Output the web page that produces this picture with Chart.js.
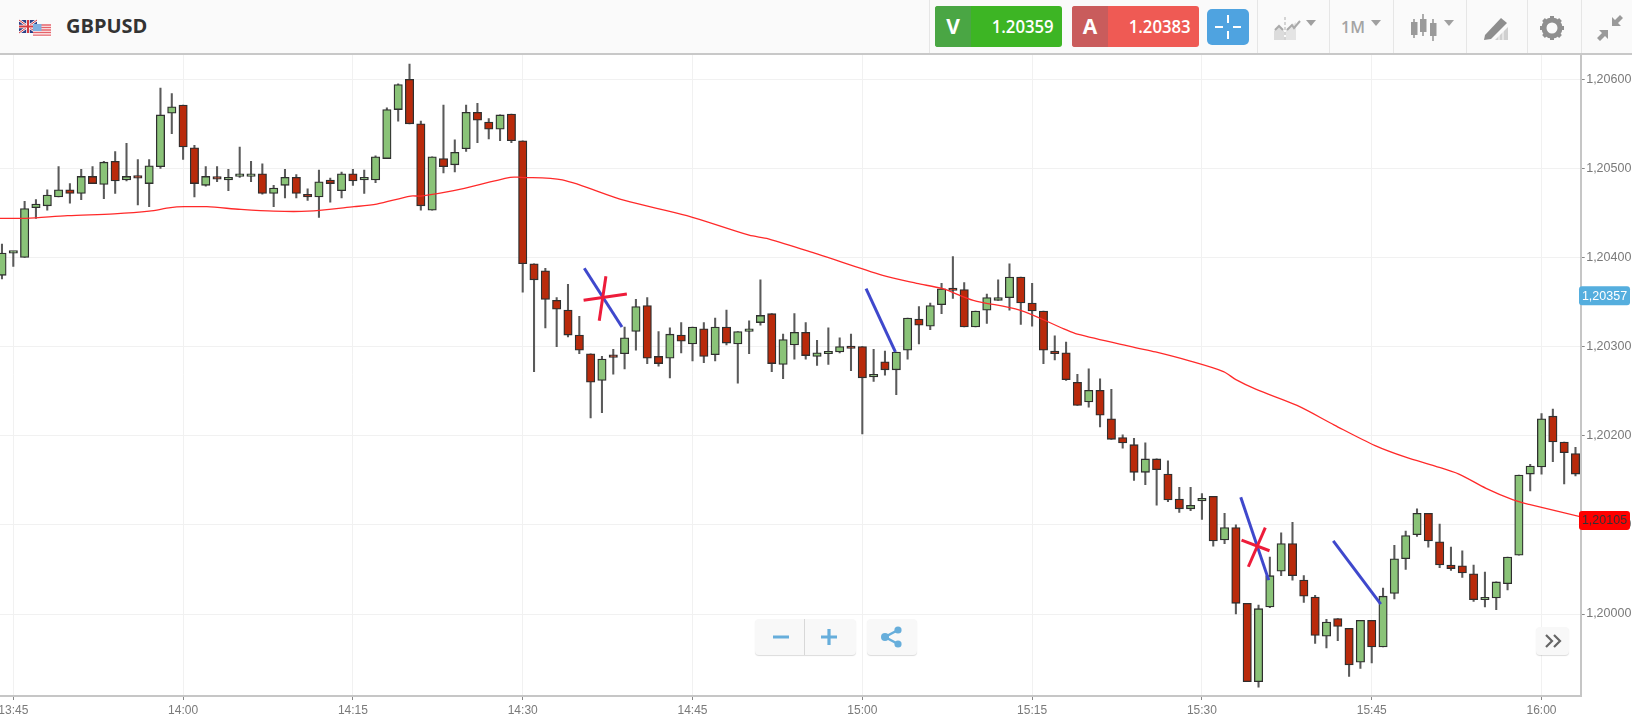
<!DOCTYPE html>
<html>
<head>
<meta charset="utf-8">
<title>GBPUSD</title>
<script src="https://cdn.jsdelivr.net/npm/chart.js@4/dist/chart.umd.js"></script>
<style>
html,body{margin:0;padding:0;background:#fff;width:1632px;height:728px;overflow:hidden;font-family:"Open Sans",sans-serif}
#wrap{position:relative;width:1632px;height:728px}
#c{position:absolute;left:0;top:0;width:1632px;height:728px}
#head{position:absolute;left:0;top:0;width:1632px;height:53px;background:#fafafa;border-bottom:2px solid #c8c8c8}
.abs{position:absolute}
.sep{position:absolute;top:0;width:1px;height:53px;background:#e6e6e6}
.btn{position:absolute;top:6px;height:41px;width:127px;border-radius:3px;overflow:hidden;color:#fff}
.btn .l{position:absolute;left:0;top:0;bottom:0;width:36px;text-align:center;font-weight:700;font-size:21px;line-height:41px}
.btn .r{position:absolute;right:8px;top:0;font-weight:600;font-size:18px;line-height:41px;transform:scaleX(.93);transform-origin:right center}
.tool{position:absolute;background:#f8f8f8;border-radius:4px;box-shadow:0 1px 1px rgba(0,0,0,.14)}
.tri{position:absolute;width:0;height:0;border-left:5.5px solid transparent;border-right:5.5px solid transparent;border-top:6px solid #a0a0a0}
</style>
</head>
<body>
<div id="wrap">
<canvas id="c" width="1632" height="728"></canvas>
<div id="head">
  <svg class="abs" style="left:18px;top:19px" width="36" height="19" viewBox="0 0 36 19">
    <rect x="1" y="1" width="18" height="13" fill="#2d3f86"/>
    <path d="M1 1L19 14M19 1L1 14" stroke="#fff" stroke-width="2.4"/>
    <path d="M1 1L19 14M19 1L1 14" stroke="#d43a3f" stroke-width="1"/>
    <path d="M10 1V14M1 7.5H19" stroke="#fff" stroke-width="3.6"/>
    <path d="M10 1V14M1 7.5H19" stroke="#d43a3f" stroke-width="2"/>
    <rect x="15" y="5" width="18" height="13" fill="#fff"/>
    <path d="M15 6H33M15 8.5H33M15 11H33M15 13.5H33M15 16.2H33" stroke="#e5626a" stroke-width="1.3"/>
    <rect x="15" y="5" width="8.5" height="7" fill="#7fb0e0"/>
  </svg>
  <div class="abs" style="left:66px;top:12px;font-size:20px;font-weight:700;color:#333;line-height:28px">GBPUSD</div>
  <div class="sep" style="left:929px"></div>
  <div class="btn" style="left:935px;background:#3db524"><div class="l" style="background:#4aa644">V</div><div class="r">1.20359</div></div>
  <div class="btn" style="left:1072px;background:#ef5a54"><div class="l" style="background:#c95c5c">A</div><div class="r">1.20383</div></div>
  <div class="abs" style="left:1207px;top:9px;width:42px;height:36px;background:#4fa3e0;border-radius:5px"></div>
  <svg class="abs" style="left:1207px;top:9px" width="42" height="36"><path d="M21 6V14M21 22V30M8 18H16M26 18H34" stroke="#fff" stroke-width="2"/></svg>
  <div class="sep" style="left:1257px"></div>
  <svg class="abs" style="left:1272px;top:16px" width="32" height="26"><path d="M2 24V15L7 10L12 15V24Z" fill="#dcdcdc"/><path d="M14 24V14L24 6V24Z" fill="#e4e4e4"/><path d="M3 14L7 10L11 14M15 14L20 9L22 12L28 5" fill="none" stroke="#aaa" stroke-width="2"/><path d="M13 1V25" stroke="#c8c8c8" stroke-width="1.5" stroke-dasharray="3 2"/></svg>
  <div class="tri" style="left:1306px;top:20px"></div>
  <div class="sep" style="left:1329px"></div>
  <div class="abs" style="left:1341px;top:14px;font-size:16px;font-weight:600;color:#a4a4a4;line-height:26px">1M</div>
  <div class="tri" style="left:1371px;top:20px"></div>
  <div class="sep" style="left:1393px"></div>
  <svg class="abs" style="left:1409px;top:13px" width="30" height="30" fill="#9a9a9a" stroke="#9a9a9a"><path d="M5 6V25M14 1V23M24 6V28" stroke-width="1.6"/><rect x="2" y="9" width="6.5" height="13" stroke="none"/><rect x="11" y="6" width="6.5" height="13" stroke="none"/><rect x="21" y="10" width="6.5" height="13" stroke="none"/></svg>
  <div class="tri" style="left:1444px;top:20px"></div>
  <div class="sep" style="left:1466px"></div>
  <svg class="abs" style="left:1482px;top:13px" width="30" height="30"><path d="M13 27H26V14Z" fill="#d0d0d0"/><path d="M17 27V21M21 27V17" stroke="#fafafa" stroke-width="1"/><path d="M3 22L19 5L25 10L9 26L2 27Z" fill="#8e8e8e"/></svg>
  <div class="sep" style="left:1527px"></div>
  <svg class="abs" style="left:1539px;top:15px" width="26" height="26" viewBox="0 0 26 26"><circle cx="13" cy="13" r="8" fill="none" stroke="#8f8f8f" stroke-width="5"/><path d="M13 1V25M1 13H25M4.5 4.5L21.5 21.5M21.5 4.5L4.5 21.5" stroke="#8f8f8f" stroke-width="4" stroke-dasharray="4 16 4 0"/></svg>
  <div class="sep" style="left:1581px"></div>
  <svg class="abs" style="left:1596px;top:14px" width="28" height="28"><path d="M16 12V3L19 6L24 1L27 4L22 9L25 12Z" fill="#9a9a9a"/><path d="M12 16V25L9 22L4 27L1 24L6 19L3 16Z" fill="#9a9a9a"/></svg>
</div>
<div class="tool" style="left:755px;top:619px;width:101px;height:36px"></div>
<div class="abs" style="left:804px;top:619px;width:1px;height:36px;background:#d8d8d8"></div>
<svg class="abs" style="left:755px;top:619px" width="101" height="36"><path d="M18 18H34M66 18H82M74 10V26" stroke="#67aedb" stroke-width="3.2"/></svg>
<div class="tool" style="left:867px;top:619px;width:50px;height:36px"></div>
<svg class="abs" style="left:867px;top:619px" width="50" height="36"><path d="M31 11L18 18L31 25" fill="none" stroke="#67aedb" stroke-width="2.5"/><circle cx="31" cy="11" r="3.6" fill="#67aedb"/><circle cx="18" cy="18" r="4" fill="#67aedb"/><circle cx="31" cy="25" r="3.6" fill="#67aedb"/></svg>
<div class="tool" style="left:1536px;top:627px;width:33px;height:28px"></div>
<svg class="abs" style="left:1536px;top:627px" width="33" height="28"><path d="M10 8L16 14L10 20M18 8L24 14L18 20" fill="none" stroke="#666" stroke-width="2.2"/></svg>
</div>
<script>
// Minutes since 13:45 for every one-minute candle, first candle at -1
const minutes = [-1,0,1,2,3,4,5,6,7,8,9,10,11,12,13,14,15,16,17,18,19,20,21,22,23,24,25,26,27,28,29,30,31,32,33,34,35,36,37,38,39,40,41,42,43,44,45,46,47,48,49,50,51,52,53,54,55,56,57,58,59,60,61,62,63,64,65,66,67,68,69,70,71,72,73,74,75,76,77,78,79,80,81,82,83,84,85,86,87,88,89,90,91,92,93,94,95,96,97,98,99,100,101,102,103,104,105,106,107,108,109,110,111,112,113,114,115,116,117,118,119,120,121,122,123,124,125,126,127,128,129,130,131,132,133,134,135,136,137,138];
const opens = [1.20380,1.20405,1.20400,1.20456,1.20458,1.20468,1.20476,1.20472,1.20491,1.20482,1.20508,1.20487,1.20492,1.20483,1.20502,1.20562,1.20571,1.20523,1.20481,1.20490,1.20487,1.20491,1.20491,1.20494,1.20472,1.20481,1.20490,1.20471,1.20468,1.20487,1.20475,1.20494,1.20487,1.20487,1.20511,1.20566,1.20600,1.20550,1.20453,1.20511,1.20504,1.20522,1.20563,1.20552,1.20544,1.20561,1.20531,
1.20393,1.20385,1.20352,1.20341,1.20313,1.20292,1.20262,1.20290,1.20292,1.20317,1.20346,1.20289,1.20287,1.20313,1.20303,1.20320,1.20291,1.20322,1.20303,1.20317,1.20327,1.20337,1.20280,1.20302,1.20316,1.20289,1.20292,1.20294,1.20300,1.20300,1.20266,1.20283,1.20274,1.20296,1.20331,1.20323,1.20347,1.20365,1.20364,1.20322,1.20341,1.20352,1.20355,1.20378,1.20349,1.20340,1.20295,1.20293,1.20260,1.20238,1.20251,1.20219,1.20198,1.20190,1.20159,1.20174,1.20157,1.20129,1.20118,1.20127,1.20132,1.20083,1.20097,1.20012,1.19924,1.20008,1.20048,1.20079,1.20038,1.20019,1.19975,1.19995,1.19984,1.19946,1.19993,1.19963,1.20023,1.20062,1.20089,1.20113,1.20081,1.20055,1.20054,1.20045,1.20016,1.20018,1.20034,1.20066,1.20157,1.20165,1.20222,1.20193,1.20180];
const highs = [1.20415,1.20407,1.20463,1.20465,1.20476,1.20502,1.20483,1.20499,1.20502,1.20508,1.20519,1.20528,1.20510,1.20510,1.20590,1.20584,1.20571,1.20526,1.20502,1.20502,1.20499,1.20524,1.20508,1.20505,1.20481,1.20499,1.20493,1.20477,1.20498,1.20489,1.20496,1.20499,1.20498,1.20514,1.20568,1.20595,1.20617,1.20553,1.20513,1.20571,1.20532,1.20571,1.20573,1.20556,1.20560,1.20561,1.20531,
1.20393,1.20388,1.20355,1.20370,1.20334,1.20292,1.20289,1.20297,1.20322,1.20353,1.20355,1.20317,1.20321,1.20327,1.20322,1.20327,1.20332,1.20341,1.20317,1.20329,1.20375,1.20337,1.20314,1.20337,1.20327,1.20307,1.20321,1.20310,1.20314,1.20300,1.20297,1.20295,1.20294,1.20332,1.20345,1.20349,1.20371,1.20401,1.20372,1.20340,1.20359,1.20375,1.20393,1.20378,1.20371,1.20340,1.20312,1.20305,1.20269,1.20275,1.20264,1.20252,1.20201,1.20197,1.20192,1.20174,1.20172,1.20142,1.20142,1.20135,1.20132,1.20113,1.20100,1.20012,1.20010,1.20064,1.20091,1.20103,1.20043,1.20021,1.19994,1.19995,1.19984,1.19993,1.19993,1.20029,1.20077,1.20093,1.20118,1.20113,1.20101,1.20075,1.20071,1.20055,1.20047,1.20036,1.20064,1.20156,1.20168,1.20225,1.20230,1.20193,1.20187];
const lows = [1.20376,1.20390,1.20400,1.20444,1.20453,1.20468,1.20461,1.20465,1.20483,1.20466,1.20472,1.20486,1.20459,1.20457,1.20500,1.20539,1.20510,1.20468,1.20480,1.20485,1.20475,1.20490,1.20485,1.20471,1.20457,1.20467,1.20467,1.20464,1.20445,1.20462,1.20467,1.20481,1.20472,1.20484,1.20511,1.20553,1.20550,1.20453,1.20453,1.20495,1.20496,1.20519,1.20529,1.20533,1.20531,1.20529,1.20361,
1.20272,1.20321,1.20300,1.20311,1.20292,1.20220,1.20226,1.20269,1.20275,1.20296,1.20281,1.20278,1.20265,1.20293,1.20284,1.20282,1.20284,1.20302,1.20259,1.20292,1.20324,1.20272,1.20264,1.20286,1.20286,1.20279,1.20280,1.20293,1.20273,1.20202,1.20261,1.20268,1.20246,1.20286,1.20303,1.20319,1.20337,1.20354,1.20322,1.20322,1.20326,1.20352,1.20341,1.20325,1.20323,1.20281,1.20285,1.20262,1.20234,1.20232,1.20210,1.20196,1.20186,1.20150,1.20145,1.20122,1.20126,1.20114,1.20116,1.20106,1.20076,1.20079,1.20000,1.19924,1.19918,1.20007,1.20043,1.20038,1.20013,1.19967,1.19962,1.19970,1.19930,1.19939,1.19945,1.19963,1.20017,1.20050,1.20087,1.20075,1.20052,1.20049,1.20041,1.20014,1.20008,1.20005,1.20027,1.20066,1.20138,1.20157,1.20171,1.20146,1.20155];
const closes = [1.20405,1.20406,1.20455,1.20460,1.20470,1.20476,1.20472,1.20491,1.20483,1.20507,1.20486,1.20491,1.20489,1.20503,1.20560,1.20569,1.20524,1.20483,1.20491,1.20488,1.20490,1.20494,1.20494,1.20472,1.20478,1.20490,1.20472,1.20468,1.20485,1.20483,1.20494,1.20486,1.20490,1.20513,1.20566,1.20594,1.20550,1.20458,1.20513,1.20502,1.20518,1.20563,1.20554,1.20544,1.20560,1.20531,1.20393,
1.20375,1.20353,1.20342,1.20313,1.20296,1.20260,1.20286,1.20288,1.20310,1.20345,1.20287,1.20281,1.20314,1.20306,1.20322,1.20289,1.20322,1.20304,1.20317,1.20320,1.20335,1.20281,1.20308,1.20316,1.20290,1.20293,1.20293,1.20300,1.20298,1.20265,1.20269,1.20274,1.20294,1.20332,1.20324,1.20346,1.20365,1.20363,1.20322,1.20340,1.20355,1.20355,1.20378,1.20349,1.20340,1.20296,1.20292,1.20263,1.20234,1.20251,1.20223,1.20196,1.20192,1.20159,1.20174,1.20162,1.20128,1.20118,1.20122,1.20129,1.20082,1.20097,1.20012,1.19924,1.20006,1.20043,1.20079,1.20043,1.20020,1.19976,1.19991,1.19986,1.19943,1.19993,1.19963,1.20020,1.20062,1.20088,1.20113,1.20082,1.20055,1.20051,1.20046,1.20016,1.20018,1.20036,1.20064,1.20156,1.20166,1.20219,1.20193,1.20181,1.20157];
// Moving average, read at the places it bends
const maMinutes = [-1.2,1.1,4.8,8.9,12,13.9,15.1,17.1,20.1,23,26,30.1,32.1,35.1,36,38.9,43.9,44.8,48.5,54,59.5,65,66.7,71,76.8,79.8,82.1,84.8,88.9,92.8,94,99.1,100.9,103.9,106.9,108,109.8,113.4,116.7,120.3,123,125.6,127.7,130.1,132.5,133.9,138.5];
const maValues = [1.20444,1.20444,1.20447,1.20449,1.20452,1.20456,1.20457,1.20457,1.20454,1.20452,1.20452,1.20457,1.20460,1.20469,1.20469,1.20475,1.20490,1.20490,1.20487,1.20464,1.20447,1.20425,1.20421,1.20404,1.20380,1.20371,1.20365,1.20352,1.20341,1.20320,1.20314,1.20299,1.20294,1.20284,1.20272,1.20263,1.20252,1.20234,1.20212,1.20189,1.20176,1.20166,1.20157,1.20141,1.20128,1.20123,1.20109];
// Hand-drawn marks: [minute, price] pairs
const blueStrokes = [[[50.44,1.20388],[53.77,1.20322]],[[75.33,1.20365],[77.92,1.20294]],[[108.43,1.20131],[110.9,1.20038]],[[116.6,1.20082],[120.8,1.20011]]];
const redStrokes = [[[50.38,1.20352],[54.2,1.20359]],[[52.35,1.20379],[51.76,1.20329]],[[108.5,1.20083],[110.97,1.20071]],[[110.6,1.20097],[109.1,1.20053]]];
const xTickMinutes = [0,15,30,45,60,75,90,105,120,135];
const xTickLabels = ["13:45","14:00","14:15","14:30","14:45","15:00","15:15","15:30","15:45","16:00"];
const yTickValues = [1.2,1.201,1.202,1.203,1.204,1.205,1.206];
const buyPrice = 1.20357, maLast = 1.20105;

const GREEN='#8ac378', RED='#b92a0b', EDGE='#2f2f2f', WICK='#5a5a5a';
const up = closes.map((c,k)=>c>=opens[k]);

const tagPlugin = {
  id:'tags',
  afterDraw(chart){
    const ctx=chart.ctx, y=chart.scales.y, L=1579, W=51, H=19;
    [[buyPrice,'#55aede','#fff'],[maLast,'#ff0000','#333']].forEach(([v,bg,fg])=>{
      const p=y.getPixelForValue(v);
      ctx.save();
      ctx.fillStyle=bg;
      ctx.beginPath();
      ctx.roundRect(L,p-H/2,W,H,3);
      ctx.fill();
      ctx.fillStyle=fg;
      ctx.font='12.5px "Liberation Sans", Arial, sans-serif';
      ctx.textAlign='center';
      ctx.textBaseline='middle';
      ctx.fillText(v.toFixed(5).replace('.',','),L+W/2,p+.5);
      ctx.restore();
    });
  }
};

const stroke=(pts,color,order)=>({type:'line',data:pts.map(p=>({x:p[0],y:p[1]})),borderColor:color,borderWidth:3,pointRadius:0,order,tension:0,parsing:false});

new Chart(document.getElementById('c'),{
  type:'bar',
  data:{datasets:[
    {label:'wicks',data:minutes.map((m,k)=>({x:m,y:[lows[k],highs[k]]})),backgroundColor:WICK,barThickness:1.4,grouped:false,order:10,borderWidth:0},
    {label:'bodies',data:minutes.map((m,k)=>({x:m,y:[Math.min(opens[k],closes[k]),Math.max(opens[k],closes[k])]})),
      backgroundColor:up.map(u=>u?GREEN:RED),borderColor:EDGE,borderWidth:1.3,borderSkipped:false,barThickness:8.4,grouped:false,order:9,minBarLength:2.4},
    {type:'line',label:'MA',data:maMinutes.map((m,k)=>({x:m,y:maValues[k]})),borderColor:'#ff2a2a',borderWidth:1.3,pointRadius:0,tension:0.3,order:5},
    ...blueStrokes.map(s=>stroke(s,'#3f48cc',3)),
    ...redStrokes.map(s=>stroke(s,'#ed1c3a',2))
  ]},
  plugins:[tagPlugin],
  options:{
    responsive:false,animation:false,
    layout:{padding:{top:54.5,left:0,right:0,bottom:0}},
    plugins:{legend:{display:false},tooltip:{enabled:false},title:{display:false}},
    scales:{
      x:{type:'linear',offset:false,min:-1.175,max:138.46,
        afterBuildTicks(s){s.ticks=xTickMinutes.map(v=>({value:v}));},
        afterFit(s){s.height=32;s.paddingLeft=0;s.paddingRight=0;},
        ticks:{autoSkip:false,maxRotation:0,minRotation:0,padding:3,color:'#7a7a7a',font:{family:'"Liberation Sans", Arial, sans-serif',size:12},
          callback(v){const i=xTickMinutes.indexOf(v);return i>=0?xTickLabels[i]:'';}},
        grid:{offset:false,color:'#f1f1f1',lineWidth:1,tickColor:'#888',tickLength:4},
        border:{color:'#c6c6c6',width:2}
      },
      y:{type:'linear',position:'right',min:1.19908,max:1.206278,
        afterBuildTicks(s){s.ticks=yTickValues.map(v=>({value:v}));},
        afterFit(s){s.width=51.3;},
        ticks:{padding:1.5,color:'#7a7a7a',font:{family:'"Liberation Sans", Arial, sans-serif',size:12.5},
          callback(v){return v.toFixed(5).replace('.',',');}},
        grid:{color:'#f1f1f1',lineWidth:1,tickColor:'#888',tickLength:4},
        border:{color:'#c6c6c6',width:2}
      }
    }
  }
});
</script>
</body>
</html>
